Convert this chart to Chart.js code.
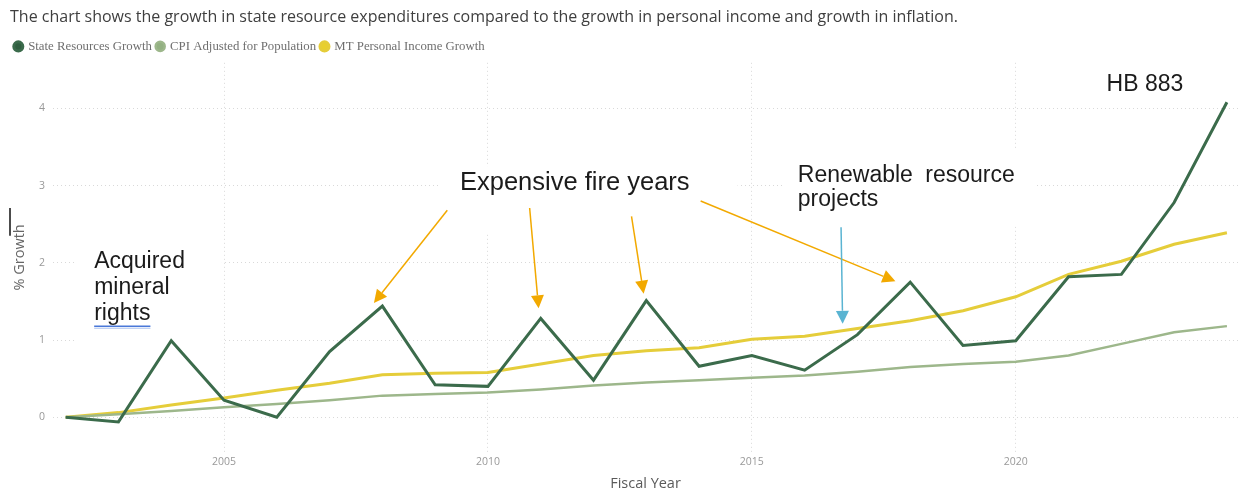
<!DOCTYPE html>
<html lang="en">
  <head>
    <meta charset="UTF-8" />
    <title>State Resources Growth</title>
    <script src="https://cdn.jsdelivr.net/npm/chart.js@4"></script>
    <style>
      body { margin: 0; background: #fff; }
      #wrap { position: relative; width: 1238px; height: 494px; }
    </style>
  </head>
  <body>
    <div id="wrap"><canvas id="myChart"></canvas></div>

    <script>
      // fiscal years and % growth since 2002
      const years = [2002, 2003, 2004, 2005, 2006, 2007, 2008, 2009, 2010, 2011, 2012, 2013,
                     2014, 2015, 2016, 2017, 2018, 2019, 2020, 2021, 2022, 2023, 2024];
      const stateResources = [0, -0.06, 0.99, 0.22, 0.0, 0.85, 1.44, 0.42, 0.40, 1.28, 0.48, 1.51,
                              0.66, 0.80, 0.61, 1.07, 1.75, 0.93, 0.99, 1.82, 1.85, 2.78, 4.08];
      const cpiAdjusted = [0, 0.04, 0.08, 0.13, 0.17, 0.22, 0.28, 0.30, 0.32, 0.36, 0.41, 0.45,
                           0.48, 0.51, 0.54, 0.59, 0.65, 0.69, 0.72, 0.80, 0.95, 1.10, 1.18];
      const personalIncome = [0, 0.06, 0.16, 0.25, 0.35, 0.44, 0.55, 0.57, 0.58, 0.69, 0.80, 0.86,
                              0.90, 1.01, 1.05, 1.15, 1.25, 1.38, 1.56, 1.85, 2.02, 2.24, 2.39];
      const yearTicks = [2005, 2010, 2015, 2020];
      const growthTicks = [0, 1, 2, 3, 4];

      const toPoints = vals => vals.map((v, i) => ({ x: years[i], y: v }));

      // callouts, placed in axis units (year, % growth)
      const noteBoxes = [
        { x0: 2002.18, x1: 2004.96, y0: 2.30, y1: 0.94 },
        { x0: 2009.09, x1: 2014.73, y0: 3.25, y1: 2.37 },
        { x0: 2015.62, x1: 2020.36, y0: 3.47, y1: 2.47 }
      ];
      const noteTexts = [
        { lines: ['Acquired', 'mineral', 'rights'], x: 2002.54, y: 1.93, size: 23, lead: 26, underlineLast: true },
        { lines: ['Expensive fire years'], x: 2009.47, y: 2.94, size: 25.5, lead: 0 },
        { lines: ['Renewable resource', 'projects'], x: 2015.87, y: 3.04, size: 23, lead: 24, justify: 217 },
        { lines: ['HB 883'], x: 2021.72, y: 4.22, size: 23, lead: 0 }
      ];
      const fireArrow = '#f2a900';
      const projectArrow = '#5ab4d2';
      const noteArrows = [
        { from: [2009.23, 2.68], to: [2007.84, 1.48], color: fireArrow },
        { from: [2010.79, 2.71], to: [2010.96, 1.41], color: fireArrow },
        { from: [2012.72, 2.60], to: [2012.95, 1.60], color: fireArrow },
        { from: [2014.03, 2.80], to: [2017.72, 1.76], color: fireArrow },
        { from: [2016.69, 2.46], to: [2016.72, 1.21], color: projectArrow }
      ];

      function drawArrow(ctx, x0, y0, x1, y1, color) {
        const ang = Math.atan2(y1 - y0, x1 - x0);
        const len = 13, half = 6.5;
        const bx = x1 - len * Math.cos(ang), by = y1 - len * Math.sin(ang);
        ctx.strokeStyle = color;
        ctx.fillStyle = color;
        ctx.lineWidth = 1.5;
        ctx.beginPath();
        ctx.moveTo(x0, y0);
        ctx.lineTo(bx, by);
        ctx.stroke();
        ctx.beginPath();
        ctx.moveTo(x1, y1);
        ctx.lineTo(bx - half * Math.sin(ang), by + half * Math.cos(ang));
        ctx.lineTo(bx + half * Math.sin(ang), by - half * Math.cos(ang));
        ctx.closePath();
        ctx.fill();
      }

      const notesPlugin = {
        id: 'notes',
        beforeDatasetsDraw(chart) {
          const { ctx, scales: { x, y } } = chart;
          ctx.save();
          ctx.fillStyle = '#ffffff';
          noteBoxes.forEach(b => {
            const px0 = x.getPixelForValue(b.x0), px1 = x.getPixelForValue(b.x1);
            const py0 = y.getPixelForValue(b.y0), py1 = y.getPixelForValue(b.y1);
            ctx.fillRect(px0, py0, px1 - px0, py1 - py0);
          });
          ctx.restore();
        },
        afterDatasetsDraw(chart) {
          const { ctx, scales: { x, y } } = chart;
          ctx.save();
          ctx.fillStyle = '#1b1b1b';
          ctx.textBaseline = 'alphabetic';
          ctx.textAlign = 'left';
          noteTexts.forEach(n => {
            ctx.font = n.size + 'px "Liberation Sans", Arial, sans-serif';
            const px = x.getPixelForValue(n.x);
            let py = y.getPixelForValue(n.y);
            n.lines.forEach((line, i) => {
              const words = line.split(' ');
              if (n.justify && words.length === 2 && i === 0) {
                ctx.fillText(words[0], px, py);
                const w = ctx.measureText(words[1]).width;
                ctx.fillText(words[1], px + n.justify - w, py);
              } else {
                ctx.fillText(line, px, py);
              }
              if (n.underlineLast && i === n.lines.length - 1) {
                const w = ctx.measureText(line).width;
                ctx.strokeStyle = '#4a78d8';
                ctx.lineWidth = 1.5;
                ctx.beginPath();
                ctx.moveTo(px, py + 6);
                ctx.lineTo(px + w, py + 6);
                ctx.stroke();
                ctx.strokeStyle = '#a9c0ee';
                ctx.lineWidth = 1;
                ctx.beginPath();
                ctx.moveTo(px, py + 8);
                ctx.lineTo(px + w, py + 8);
                ctx.stroke();
              }
              py += n.lead;
            });
          });
          noteArrows.forEach(a => {
            drawArrow(ctx,
              x.getPixelForValue(a.from[0]), y.getPixelForValue(a.from[1]),
              x.getPixelForValue(a.to[0]), y.getPixelForValue(a.to[1]), a.color);
          });
          // stray caret mark beside the axis title
          ctx.strokeStyle = '#111';
          ctx.lineWidth = 1.5;
          ctx.beginPath();
          ctx.moveTo(10, y.getPixelForValue(2.71));
          ctx.lineTo(10, y.getPixelForValue(2.35));
          ctx.stroke();
          ctx.restore();
        }
      };

      const uiFont = '"Segoe UI", "Open Sans", sans-serif';
      const ctx = document.getElementById('myChart').getContext('2d');
      const myChart = new Chart(ctx, {
        type: 'line',
        data: {
          datasets: [
            {
              label: 'State Resources Growth',
              data: toPoints(stateResources),
              borderColor: '#3b6b4b',
              backgroundColor: '#2f5e3f',
              borderWidth: 3
            },
            {
              label: 'CPI Adjusted for Population',
              data: toPoints(cpiAdjusted),
              borderColor: '#9db78b',
              backgroundColor: '#93b182',
              borderWidth: 2.5
            },
            {
              label: 'MT Personal Income Growth',
              data: toPoints(personalIncome),
              borderColor: '#e5cd3a',
              backgroundColor: '#e8cf2e',
              borderWidth: 3
            }
          ]
        },
        options: {
          responsive: true,
          maintainAspectRatio: false,
          animation: false,
          layout: { padding: { left: 10, right: 0, top: 0, bottom: 0 } },
          elements: {
            point: { radius: 0, hoverRadius: 0 },
            line: { tension: 0, borderJoinStyle: 'miter' }
          },
          plugins: {
            title: {
              display: true,
              text: 'The chart shows the growth in state resource expenditures compared to the growth in personal income and growth in inflation.',
              align: 'start',
              color: '#3f3f3f',
              font: { family: uiFont, size: 16, weight: 'normal' },
              padding: { top: 8, bottom: 8 }
            },
            legend: {
              position: 'top',
              align: 'start',
              labels: {
                usePointStyle: true,
                pointStyle: 'circle',
                boxWidth: 7,
                boxHeight: 6.4,
                padding: 4.8,
                color: '#6f6f6f',
                font: { family: '"Liberation Serif", "Times New Roman", serif', size: 12.8 }
              }
            },
            tooltip: { enabled: false }
          },
          scales: {
            x: {
              type: 'linear',
              min: 2001.76,
              max: 2024.21,
              afterBuildTicks: scale => { scale.ticks = yearTicks.map(v => ({ value: v })); },
              afterFit: scale => { scale.height = 42; },
              grid: { color: '#d9d9d9', drawTicks: false },
              border: { display: false, dash: [1, 3] },
              ticks: {
                color: '#999999',
                padding: 4,
                maxRotation: 0,
                font: { family: uiFont, size: 10.5 },
                callback: v => String(v)
              },
              title: {
                display: true,
                text: 'Fiscal Year',
                color: '#5a5a5a',
                font: { family: uiFont, size: 14.5 },
                padding: { top: 0, bottom: 1 }
              }
            },
            y: {
              min: -0.45,
              max: 4.59,
              afterBuildTicks: scale => { scale.ticks = growthTicks.map(v => ({ value: v })); },
              afterFit: scale => { scale.width = 43; },
              grid: { color: '#d9d9d9', drawTicks: false },
              border: { display: false, dash: [1, 3] },
              ticks: {
                color: '#999999',
                padding: 8,
                font: { family: uiFont, size: 10.5 }
              },
              title: {
                display: true,
                text: '% Growth',
                color: '#666666',
                font: { family: uiFont, size: 14.5 },
                padding: { top: 1, bottom: 0 }
              }
            }
          }
        },
        plugins: [notesPlugin]
      });
    </script>
  </body>
</html>
